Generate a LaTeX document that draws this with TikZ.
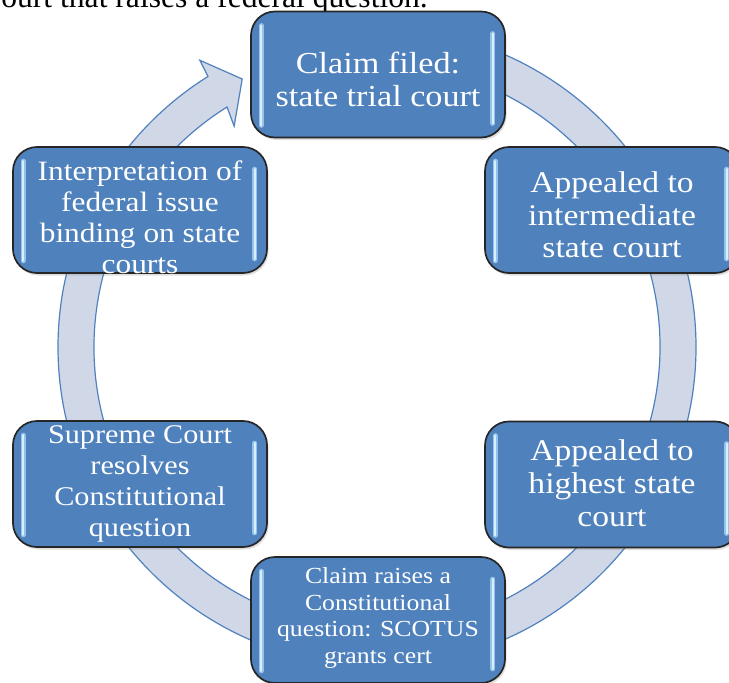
\documentclass[tikz,border=0pt]{standalone}
\usepackage{fontspec}
\setmainfont{Liberation Serif}
\newfontfamily\boxfont[FakeStretch=1.12]{Liberation Serif}
\usetikzlibrary{shadows}
\definecolor{boxblue}{RGB}{79,129,189}
\definecolor{ringfill}{RGB}{208,216,232}
\definecolor{ringline}{RGB}{79,129,189}
\definecolor{glare}{RGB}{215,240,255}
\definecolor{glarehalo}{RGB}{150,195,235}
\tikzset{
  stagebox/.style={draw=black!85, line width=1.7pt, fill=boxblue, rounded corners=24pt,
    minimum width=254pt, minimum height=126pt, inner sep=0pt,
    drop shadow={opacity=0.25, shadow xshift=1.5pt, shadow yshift=-2.5pt}},
  stagetext/.style={text=white, align=center, inner sep=0pt},
  glarehalo/.style={draw=glarehalo, line width=5pt, line cap=round},
  glareline/.style={draw=glare, line width=2.4pt, line cap=round},
  ringarrow/.style={fill=ringfill, draw=ringline, line width=1.2pt}
}
\newcommand{\glares}[1]{%
  \draw[glarehalo] ([xshift=11pt,yshift=-15pt]#1.north west) -- ([xshift=11pt,yshift=13pt]#1.south west);
  \draw[glarehalo] ([xshift=-13pt,yshift=-23pt]#1.north east) -- ([xshift=-13pt,yshift=15pt]#1.south east);
  \draw[glareline] ([xshift=11pt,yshift=-15pt]#1.north west) -- ([xshift=11pt,yshift=13pt]#1.south west);
  \draw[glareline] ([xshift=-13pt,yshift=-23pt]#1.north east) -- ([xshift=-13pt,yshift=15pt]#1.south east);
}
\begin{document}
\begin{tikzpicture}[x=1pt,y=1pt]
\useasboundingbox (0,0) rectangle (729,-683);
\clip (0,0) rectangle (729,-683);
\fill[white] (0,0) rectangle (729,-683);
% top text
\node[anchor=base east, inner sep=0pt, font=\fontsize{31.6}{36}\selectfont] (toptext) at (428,-7.5) {ourt that raises a federal question.};
% ring arrow
\begin{scope}[shift={(377,-347)}]
\path[ringarrow] (90:319) arc[start angle=90, end angle=-238, radius=319]
  -- (121.7:337) -- (116.7:300) -- (122.9:263) -- (122:283)
  arc[start angle=-238, end angle=90, radius=283] -- cycle;
\end{scope}
% boxes
\node[stagebox] (b1) at (378,-74.5) {};
\node[stagebox] (b2) at (612,-210) {};
\node[stagebox] (b3) at (612,-484.5) {};
\node[stagebox] (b4) at (378,-620) {};
\node[stagebox] (b5) at (140,-484) {};
\node[stagebox] (b6) at (140,-210) {};
\glares{b1}\glares{b2}\glares{b3}\glares{b4}\glares{b5}\glares{b6}
% texts
\node[stagetext, font=\boxfont\fontsize{30.5}{33}\selectfont] (t1) at ([yshift=-5pt]b1.center) {Claim filed:\\state trial court};
\node[stagetext, font=\boxfont\fontsize{30}{32.5}\selectfont] (t2) at ([yshift=-5pt]b2.center) {Appealed to\\intermediate\\state court};
\node[stagetext, font=\boxfont\fontsize{30}{33}\selectfont] (t3) at ([yshift=1pt]b3.center) {Appealed to\\highest state\\court};
\node[stagetext, font=\boxfont\fontsize{23}{26.5}\selectfont] (t4) at ([yshift=2pt]b4.center) {Claim raises a\\Constitutional\\question: SCOTUS\\grants cert};
\node[stagetext, font=\boxfont\fontsize{27}{31}\selectfont] (t5) at (b5.center) {Supreme Court\\resolves\\Constitutional\\question};
\node[stagetext, font=\boxfont\fontsize{28}{31}\selectfont] (t6) at ([yshift=-7pt]b6.center) {Interpretation of\\federal issue\\binding on state\\courts};
\end{tikzpicture}
\end{document}
